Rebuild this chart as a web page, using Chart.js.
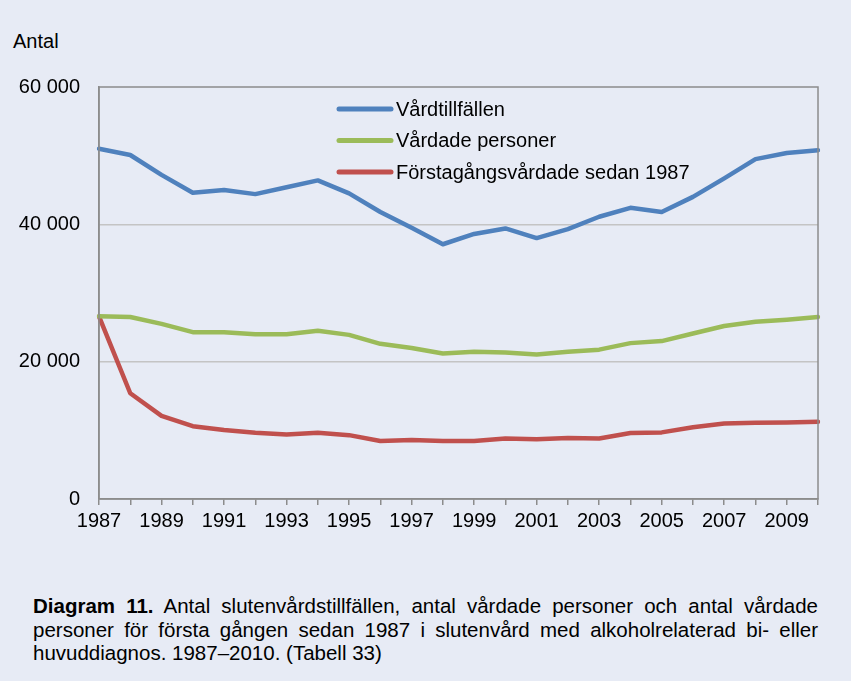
<!DOCTYPE html>
<html lang="sv">
<head>
<meta charset="UTF-8">
<title>Diagram 11</title>
<script src="https://cdn.jsdelivr.net/npm/chart.js"></script>
<style>
    body {
        margin: 0;
        background-color: #e7ebf5;
        font-family: 'Liberation Sans', Arial, sans-serif;
    }
    .wrap {
        position: relative;
        width: 851px;
        height: 681px;
    }
    .chartbox {
        position: absolute;
        left: 0;
        top: 0;
        width: 851px;
        height: 560px;
    }
    .antal {
        position: absolute;
        left: 13px;
        top: 30px;
        font-size: 20px;
        color: #000;
    }
    .caption {
        position: absolute;
        left: 33px;
        top: 594px;
        width: 785px;
        font-size: 20.5px;
        line-height: 23.5px;
        color: #000;
    }
    .caption div {
        text-align: justify;
        text-align-last: justify;
        white-space: nowrap;
    }
    .caption div.last {
        text-align-last: left;
    }
</style>
</head>
<body>
<div class="wrap">
    <div class="antal">Antal</div>
    <div class="chartbox"><canvas id="chart"></canvas></div>
    <div class="caption">
        <div><b>Diagram 11.</b> Antal slutenvårdstillfällen, antal vårdade personer och antal vårdade</div>
        <div>personer för första gången sedan 1987 i slutenvård med alkoholrelaterad bi- eller</div>
        <div class="last">huvuddiagnos. 1987–2010. (Tabell 33)</div>
    </div>
</div>
<script>
    const years = ['1987', '1988', '1989', '1990', '1991', '1992', '1993', '1994', '1995', '1996', '1997', '1998',
                   '1999', '2000', '2001', '2002', '2003', '2004', '2005', '2006', '2007', '2008', '2009', '2010'];

    const vardtillfallen = [51000, 50100, 47200, 44600, 45000, 44400, 45400, 46400, 44500, 41800, 39500, 37100,
                            38600, 39400, 38000, 39300, 41100, 42400, 41800, 44000, 46700, 49500, 50400, 50800];

    const vardadePersoner = [26600, 26500, 25500, 24300, 24300, 24000, 24000, 24500, 23900, 22600, 22000, 21200,
                             21450, 21350, 21050, 21450, 21750, 22700, 23000, 24100, 25200, 25800, 26100, 26500];

    const forstagangs = [26600, 15400, 12100, 10600, 10050, 9650, 9400, 9650, 9300, 8450, 8600, 8450,
                         8450, 8800, 8700, 8900, 8800, 9600, 9700, 10450, 11000, 11100, 11150, 11250];

    const yTicks = [0, 20000, 40000, 60000];

    const seriesNames = ['Vårdtillfällen', 'Vårdade personer', 'Förstagångsvårdade sedan 1987'];
    const colors = ['#4f81bd', '#9bbb59', '#c0504d'];

    const axisGrey = '#8c8c8c';
    const font = { family: "'Liberation Sans', Arial, sans-serif", size: 20 };

    function fmt(v) {
        return String(v).replace(/\B(?=(\d{3})+(?!\d))/g, ' ');
    }

    // ram runt ritytan + legend inne i diagrammet
    const framePlugin = {
        id: 'frame',
        afterDraw(chart) {
            const { ctx, chartArea: a } = chart;
            ctx.save();
            ctx.strokeStyle = axisGrey;
            ctx.lineWidth = 1.5;
            ctx.strokeRect(a.left, a.top, a.right - a.left, a.bottom - a.top);

            ctx.font = '20px ' + font.family;
            ctx.textBaseline = 'middle';
            ctx.lineCap = 'round';
            chart.data.datasets.forEach((ds, i) => {
                const y = 109 + i * 31.5;
                ctx.strokeStyle = ds.borderColor;
                ctx.lineWidth = 5;
                ctx.beginPath();
                ctx.moveTo(339, y);
                ctx.lineTo(391, y);
                ctx.stroke();
                ctx.fillStyle = '#000';
                ctx.fillText(ds.label, 396, y + 1);
            });
            ctx.restore();
        }
    };

    const ctx = document.getElementById('chart').getContext('2d');
    new Chart(ctx, {
        type: 'line',
        data: {
            labels: years,
            datasets: [vardtillfallen, vardadePersoner, forstagangs].map((d, i) => ({
                label: seriesNames[i],
                data: d,
                borderColor: colors[i],
                backgroundColor: colors[i],
                borderWidth: 4.5,
                borderJoinStyle: 'round',
                borderCapStyle: 'round',
                pointRadius: 0,
                tension: 0
            }))
        },
        options: {
            responsive: true,
            maintainAspectRatio: false,
            animation: false,
            layout: { padding: { top: 87, right: 33, left: 0, bottom: 0 } },
            plugins: {
                legend: { display: false },
                tooltip: { enabled: false }
            },
            scales: {
                x: {
                    afterFit(scale) { scale.height = 61; },
                    grid: {
                        drawOnChartArea: false,
                        color: axisGrey,
                        lineWidth: 1.5,
                        tickLength: 6
                    },
                    border: { color: axisGrey, width: 1.5 },
                    ticks: {
                        autoSkip: false,
                        maxRotation: 0,
                        padding: 4,
                        color: '#000',
                        font: font,
                        callback: (v, i) => (i % 2 === 0 ? years[i] : '')
                    }
                },
                y: {
                    min: yTicks[0],
                    max: yTicks[yTicks.length - 1],
                    afterFit(scale) { scale.width = 99; },
                    afterBuildTicks(scale) { scale.ticks = yTicks.map(v => ({ value: v })); },
                    grid: {
                        drawTicks: false,
                        lineWidth: 1.5,
                        color: c => (c.tick && c.tick.value > 0 && c.tick.value < 60000 ? '#c4c4c4' : 'rgba(0,0,0,0)')
                    },
                    border: { color: axisGrey, width: 1.5 },
                    ticks: {
                        padding: 19,
                        color: '#000',
                        font: font,
                        callback: v => fmt(v)
                    }
                }
            }
        },
        plugins: [framePlugin]
    });
</script>
</body>
</html>
